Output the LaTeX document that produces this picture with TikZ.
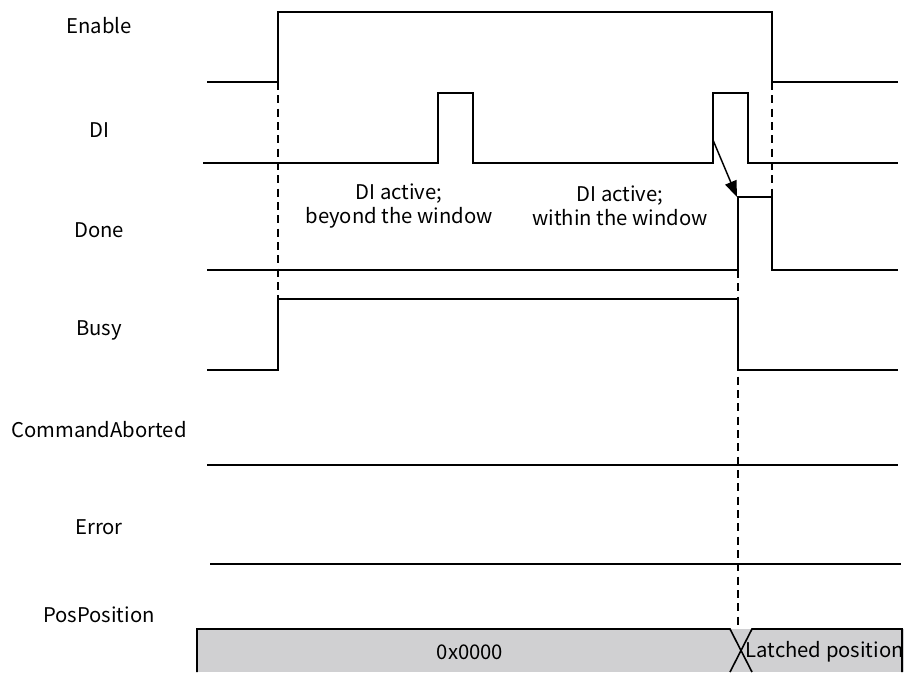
\documentclass[tikz,border=0pt]{standalone}
\usepackage{fontspec}
\setmainfont{Noto Sans CJK SC}
\usepackage{xcolor}
\definecolor{busGray}{HTML}{D0D0D2}
\usetikzlibrary{arrows.meta}

\begin{document}
\begin{tikzpicture}[
    x=0.75pt, y=-0.75pt,
    every node/.style={font=\fontsize{15.2}{18}\selectfont},
    wave/.style={line width=1.5pt, line join=miter},
    guide/.style={line width=1pt, dash pattern=on 6pt off 4pt},
    note/.style={align=center},
    arr/.style={-{Triangle[length=12pt, width=9pt]}, line width=1.1pt}
]
\useasboundingbox (0,0) rectangle (904,672);
% Signal names
\foreach \n/\t/\y in {en/Enable/26, di/DI/130, done/Done/230, busy/Busy/330,
                      abort/CommandAborted/430, err/Error/527, pos/PosPosition/615} {
    \node (lbl-\n) at (99,\y) {\t};
}
% Guides
\draw[guide] (278,82) -- (278,299);
\draw[guide] (772,82) -- (772,197);
\draw[guide] (738,270) -- (738,629);
% Enable
\draw[wave] (207,82) -- (278,82) -- (278,12) -- (772,12) -- (772,82) -- (898,82);
% DI
\draw[wave] (203,163) -- (438,163) -- (438,93) -- (473,93) -- (473,163)
    -- (713,163) -- (713,93) -- (748,93) -- (748,163) -- (898,163);
% Done
\draw[wave] (207,270) -- (738,270) -- (738,197) -- (772,197) -- (772,270) -- (898,270);
% Busy
\draw[wave] (207,370) -- (278,370) -- (278,299) -- (738,299) -- (738,370) -- (898,370);
% CommandAborted, Error
\draw[wave] (207,465) -- (898,465);
\draw[wave] (210,564) -- (901,564);
% PosPosition bus
\fill[busGray] (197,629) rectangle (904,672);
\draw[line width=1.2pt] (197,672) -- (197,629) -- (730,629) -- (752,672);
\draw[line width=1.2pt] (730,672) -- (752,629) -- (902,629) -- (902,672);
\node (val-old) at (470,652) {0x0000};
\node[anchor=west, inner sep=1pt] (val-new) at (744,652) {Latched position};
% Notes
\node[note] (note-out) at (399,206) {DI active;\\beyond the window};
\node[note] (note-in) at (620,206) {DI active;\\within the window};
% Trigger arrow
\coordinate (diEdge) at (713,140);
\coordinate (doneEdge) at (737,197);
\draw[arr] (diEdge) -- (doneEdge);
\end{tikzpicture}
\end{document}
